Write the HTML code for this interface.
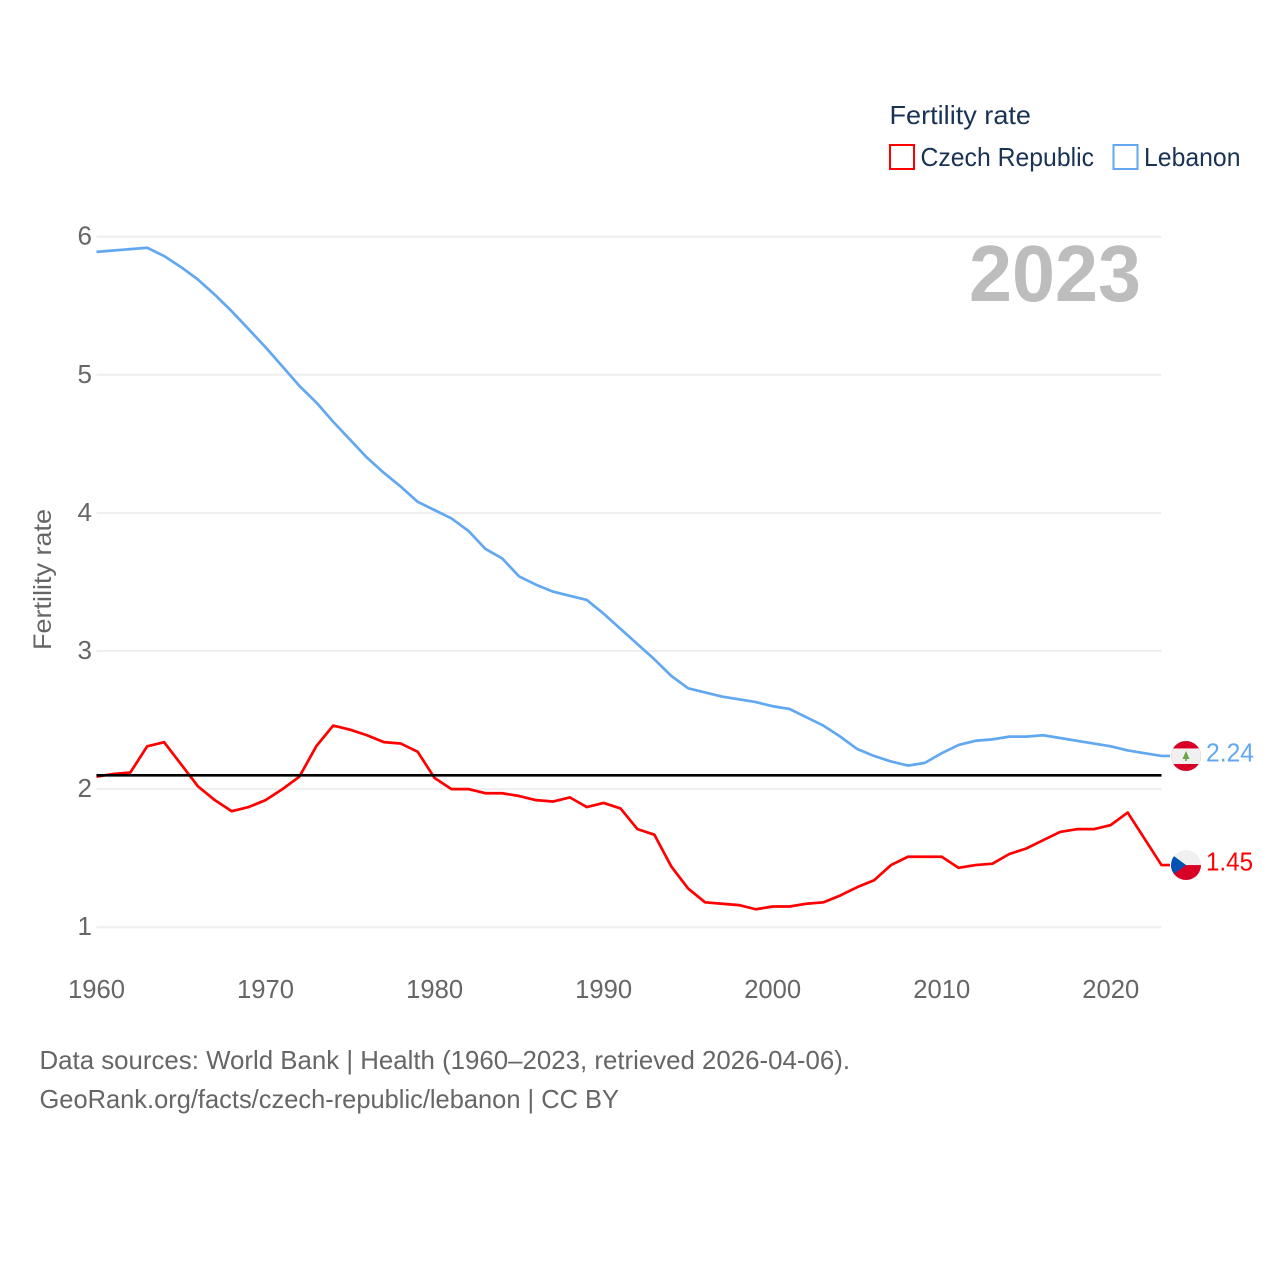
<!DOCTYPE html>
<html lang="en">
<head>
<meta charset="utf-8">
<title>Fertility rate: Czech Republic and Lebanon</title>
<style>
html,body{margin:0;padding:0;background:#fff;}
svg{display:block;font-family:"Liberation Sans",sans-serif;}
</style>
</head>
<body>
<svg id="chart" width="1280" height="1280" viewBox="0 0 1280 1280" xmlns="http://www.w3.org/2000/svg">
  <defs>
    <clipPath id="flag-clip"><circle cx="0" cy="0" r="15"></circle></clipPath>
  </defs>
  <rect width="1280" height="1280" fill="#ffffff"></rect>
  <g id="grid"></g>
  <g id="x-axis"></g>
  <g id="y-axis"></g>
  <text x="969" y="301" font-size="80" font-weight="bold" fill="#bdbdbd" textLength="172" lengthAdjust="spacingAndGlyphs">2023</text>
  <text transform="translate(51,650) rotate(-90)" font-size="25" fill="#666666" textLength="141" lengthAdjust="spacingAndGlyphs">Fertility rate</text>
  <g id="series"></g>
  <g id="end-labels"></g>

  <g>
    <text x="889.500" y="124" font-size="26" fill="#1a3253" textLength="141.500" lengthAdjust="spacingAndGlyphs">Fertility rate</text>
    <g>
      <rect x="890" y="145" width="24" height="24" fill="#ffffff" stroke="#ff0000" stroke-width="2"></rect>
      <text x="920.500" y="166" font-size="26" fill="#1a3253" textLength="173.500" lengthAdjust="spacingAndGlyphs">Czech Republic</text>
    </g>
    <g>
      <rect x="1113.500" y="145" width="24" height="24" fill="#ffffff" stroke="#62a8f0" stroke-width="2"></rect>
      <text x="1144" y="166" font-size="26" fill="#1a3253" textLength="96.500" lengthAdjust="spacingAndGlyphs">Lebanon</text>
    </g>
  </g>

  <g>
    <text x="39.500" y="1069" font-size="26" fill="#666666" textLength="810.500" lengthAdjust="spacingAndGlyphs">Data sources: World Bank | Health (1960–2023, retrieved 2026-04-06).</text>
    <text x="39.500" y="1108" font-size="26" fill="#666666" textLength="579.500" lengthAdjust="spacingAndGlyphs">GeoRank.org/facts/czech-republic/lebanon | CC BY</text>
  </g>
</svg>
<script>
const startYear = 1960;
const endYear = 2023;
const xTickLabels = [1960, 1970, 1980, 1990, 2000, 2010, 2020];
const yTickLabels = [1, 2, 3, 4, 5, 6];
const referenceRate = [2.1];
const czechValues = [2.09,2.11,2.12,2.31,2.34,2.18,2.02,1.92,1.84,1.87,1.92,2.00,2.09,2.31,2.46,2.43,2.39,2.34,2.33,2.27,2.08,2.00,2.00,1.97,1.97,1.95,1.92,1.91,1.94,1.87,1.90,1.86,1.71,1.67,1.44,1.28,1.18,1.17,1.16,1.13,1.15,1.15,1.17,1.18,1.23,1.29,1.34,1.45,1.51,1.51,1.51,1.43,1.45,1.46,1.53,1.57,1.63,1.69,1.71,1.71,1.74,1.83,1.64,1.45];
const lebanonValues = [5.89,5.90,5.91,5.92,5.86,5.78,5.69,5.58,5.46,5.33,5.20,5.06,4.92,4.80,4.66,4.53,4.40,4.29,4.19,4.08,4.02,3.96,3.87,3.74,3.67,3.54,3.48,3.43,3.40,3.37,3.27,3.16,3.05,2.94,2.82,2.73,2.70,2.67,2.65,2.63,2.60,2.58,2.52,2.46,2.38,2.29,2.24,2.20,2.17,2.19,2.26,2.32,2.35,2.36,2.38,2.38,2.39,2.37,2.35,2.33,2.31,2.28,2.26,2.24];

const SVG_NS = 'http://www.w3.org/2000/svg';
const plotLeft = 96.5, plotRight = 1161.5, yAtOne = 927.2, yAtSix = 236.7;
function xScale(year) { return plotLeft + (year - startYear) * (plotRight - plotLeft) / (endYear - startYear); }
function yScale(value) { return yAtOne - (value - 1) * (yAtOne - yAtSix) / 5; }
function make(tag, attrs, parent) {
  const el = document.createElementNS(SVG_NS, tag);
  for (const k in attrs) el.setAttribute(k, attrs[k]);
  parent.appendChild(el);
  return el;
}
const grid = document.getElementById('grid');
const xAxis = document.getElementById('x-axis');
const yAxis = document.getElementById('y-axis');
const seriesGroup = document.getElementById('series');
const endLabels = document.getElementById('end-labels');

yTickLabels.forEach(function (v) {
  const line = make('line', {x1: plotLeft, x2: plotRight, y1: yScale(v), y2: yScale(v), stroke: '#eeeeee', 'stroke-width': 2}, grid);
  
  
  const t = make('text', {x: 92, y: yScale(v) + 8, 'font-size': 26, fill: '#666666', 'text-anchor': 'end'}, yAxis);
  
  
  t.textContent = v;
});

xTickLabels.forEach(function (y) {
  const t = make('text', {x: xScale(y) - 28.5, y: 998, 'font-size': 26, fill: '#666666', textLength: 57, lengthAdjust: 'spacingAndGlyphs'}, xAxis);
  
  
  t.textContent = y;
});

function drawSeries(values, color, name) {
  const pts = values.map(function (v, i) { return xScale(startYear + i).toFixed(2) + ',' + yScale(v).toFixed(2); });
  const last = values[values.length - 1];
  pts.push('1170,' + yScale(last).toFixed(2));
  const line = make('polyline', {points: pts.join(' '), fill: 'none', stroke: color, 'stroke-width': 2.7, 'stroke-linejoin': 'round'}, seriesGroup);
  
  
}
drawSeries(lebanonValues, '#62a8f0', 'lebanon');
drawSeries(czechValues, '#ff0000', 'czech-republic');

referenceRate.forEach(function (v) {
  const refLine = make('line', {x1: plotLeft, x2: plotRight, y1: yScale(v), y2: yScale(v), stroke: '#000000', 'stroke-width': 2.7}, seriesGroup);
  
  
});

function drawFlag(kind, value) {
  const g = make('g', {transform: 'translate(1186,' + yScale(value).toFixed(2) + ')', 'clip-path': 'url(#flag-clip)'}, endLabels);
  
  
  if (kind === 'lebanon') {
    make('rect', {x: -15, y: -15, width: 30, height: 30, fill: '#d80027'}, g);
    make('rect', {x: -15, y: -7.500, width: 30, height: 15.500, fill: '#f0f0f0'}, g);
    make('polygon', {points: '0,-5 3.500,3 0.800,3 0.800,5 -0.800,5 -0.800,3 -3.500,3', fill: '#6da544'}, g);
  } else {
    make('rect', {x: -15, y: -15, width: 30, height: 15, fill: '#f0f0f0'}, g);
    make('rect', {x: -15, y: 0, width: 30, height: 15, fill: '#d80027'}, g);
    make('polygon', {points: '-15,-11 0,0 -15,11', fill: '#0052b4'}, g);
  }
}
function drawEndLabel(value, color, name, width) {
  const t = make('text', {x: 1206, y: yScale(value) + 5.5, 'font-size': 26, fill: color, textLength: width, lengthAdjust: 'spacingAndGlyphs'}, endLabels);
  
  
  t.textContent = value.toFixed(2);
}
const lastLebanon = lebanonValues[lebanonValues.length - 1];
const lastCzech = czechValues[czechValues.length - 1];
drawFlag('lebanon', lastLebanon);
drawFlag('czech-republic', lastCzech);
drawEndLabel(lastLebanon, '#62a8f0', 'lebanon', 48);
drawEndLabel(lastCzech, '#ff0000', 'czech-republic', 47);
</script>
</body>
</html>
